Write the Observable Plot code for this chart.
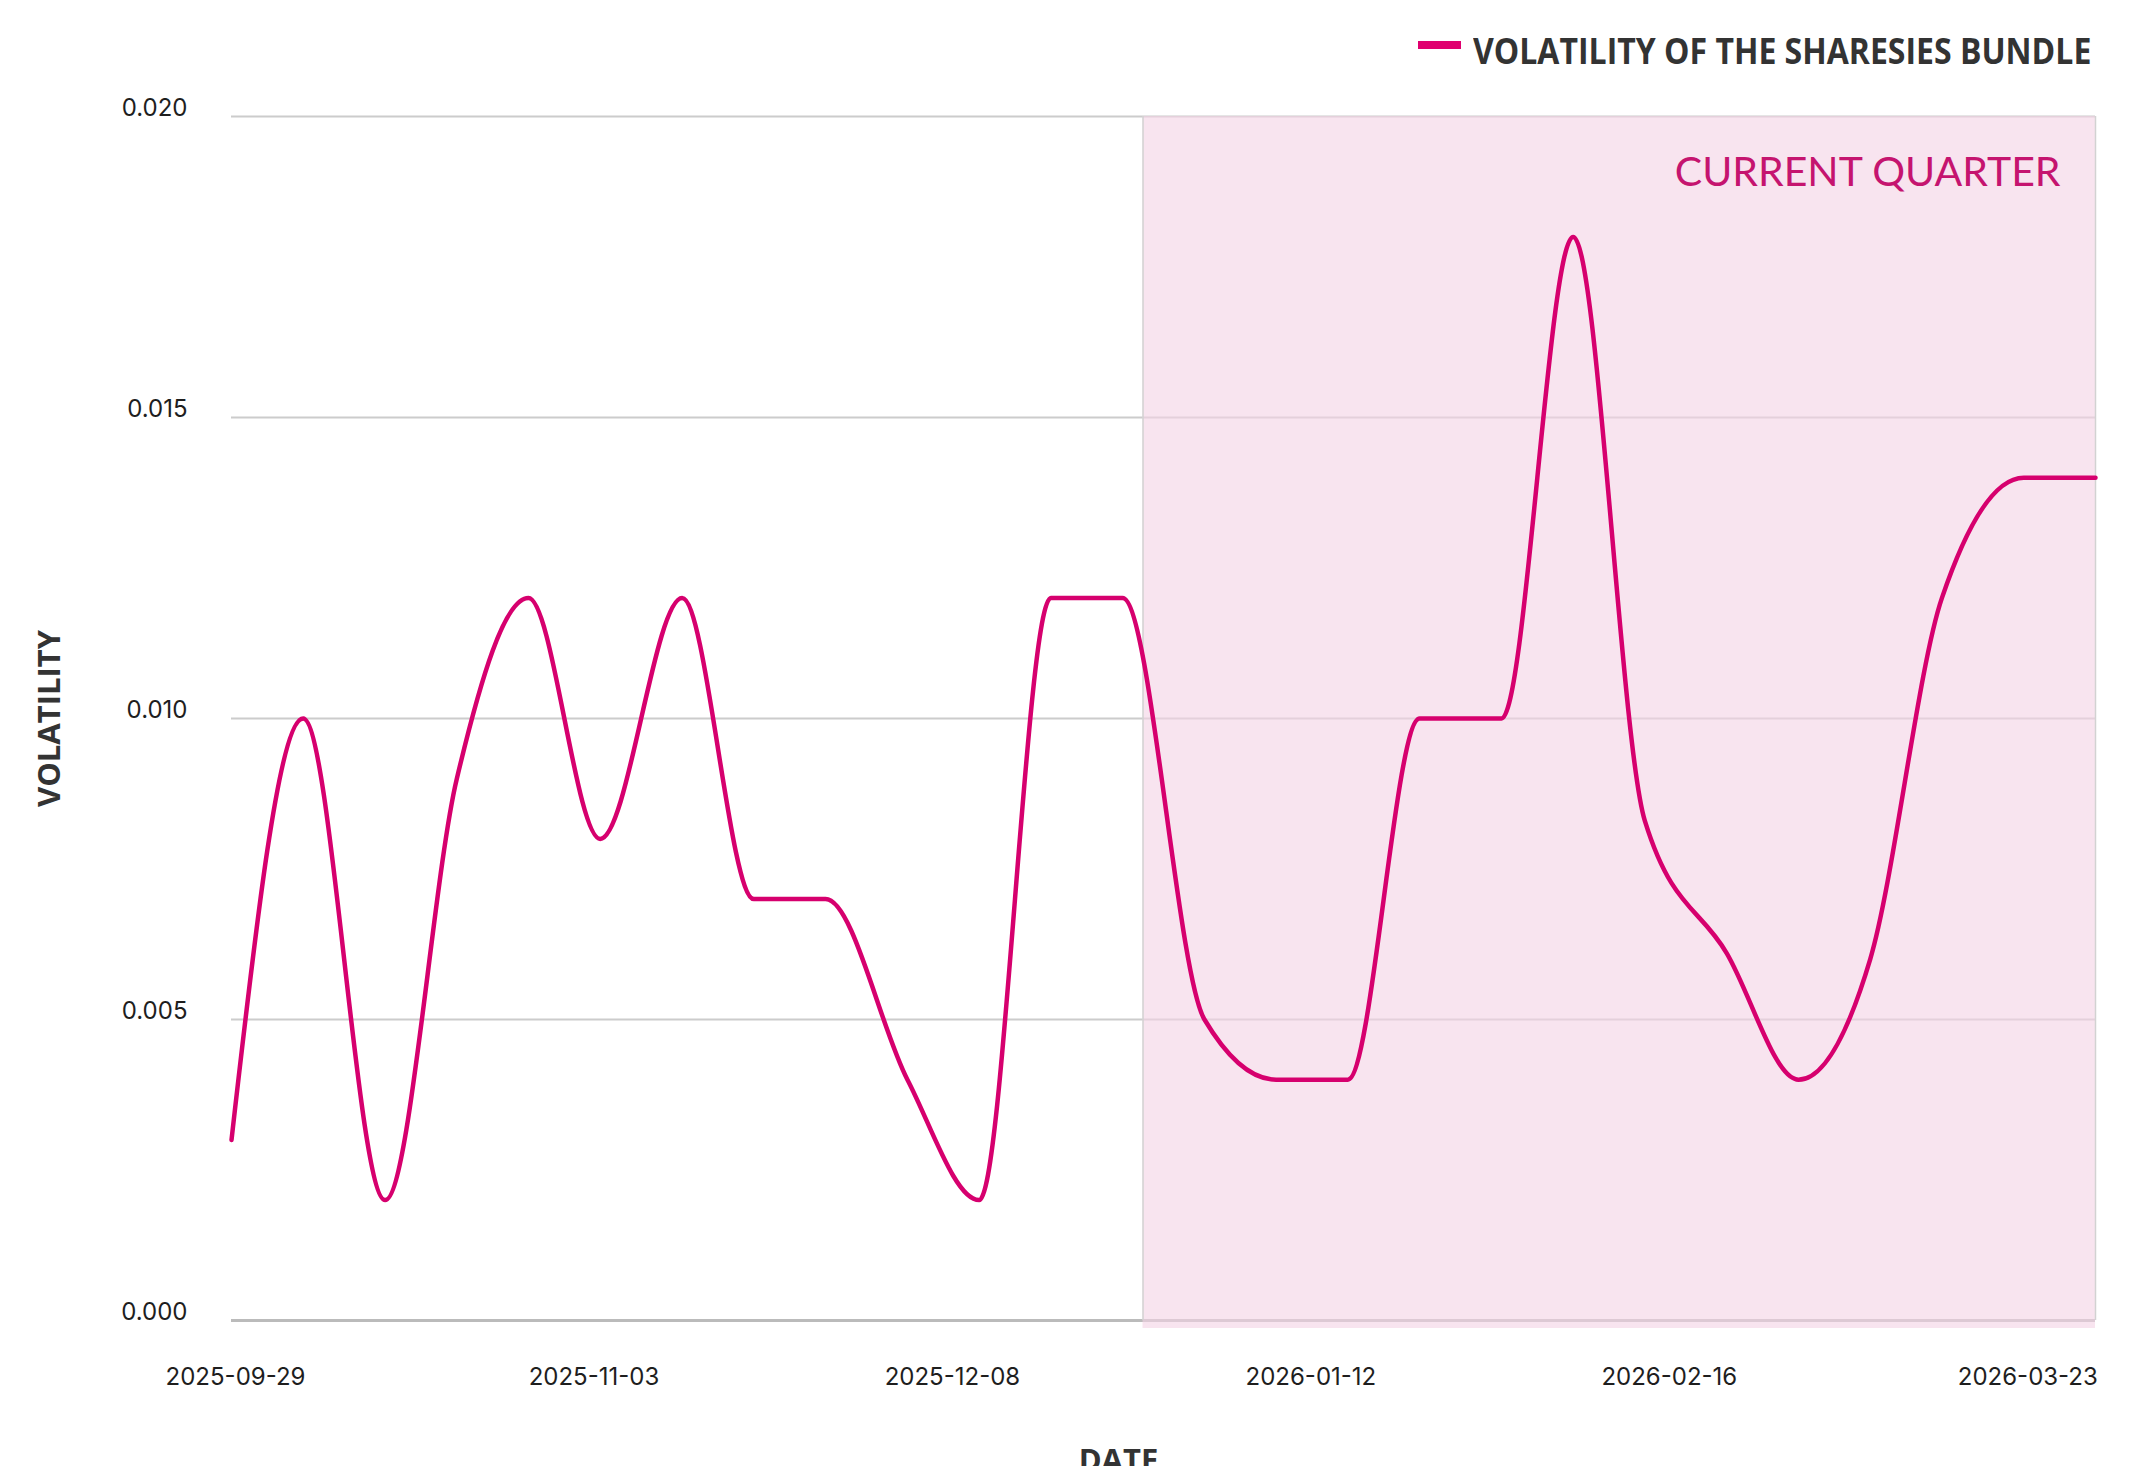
<!DOCTYPE html>
<html>
<head>
<meta charset="utf-8">
<script src="https://cdn.jsdelivr.net/npm/d3@7"></script>
<script src="https://cdn.jsdelivr.net/npm/@observablehq/plot@0.6"></script>
<style>
  html, body { margin: 0; padding: 0; background: #fff; overflow: hidden; }
  #legend { position: relative; width: 2132px; height: 80px; }
  #swatch { position: absolute; left: 1418px; top: 41px; width: 43px; height: 8px; background: #e0006f; }
  #legend-text { position: absolute; right: 41px; top: 33px; font-family: "Open Sans", sans-serif; font-weight: 700;
    font-size: 35px; line-height: 35px; color: #333; white-space: nowrap; transform-origin: right center; }
  #chart svg { display: block; overflow: visible; }
  #chart svg g[font-variant] { font-variant: normal; }
</style>
</head>
<body>
<div id="legend"><div id="swatch"></div><span id="legend-text">VOLATILITY OF THE SHARESIES BUNDLE</span></div>
<div id="chart"></div>
<script>
// ---- data ----
const dates = [
  "2025-09-29", "2025-10-06", "2025-10-14", "2025-10-21", "2025-10-28", "2025-11-04",
  "2025-11-12", "2025-11-19", "2025-11-26", "2025-12-04", "2025-12-11", "2025-12-18",
  "2025-12-25", "2026-01-02", "2026-01-09", "2026-01-16", "2026-01-23", "2026-01-31",
  "2026-02-07", "2026-02-14", "2026-02-22", "2026-03-01", "2026-03-08", "2026-03-15",
  "2026-03-23", "2026-03-30"
];
const volatility = [
  0.003, 0.010, 0.002, 0.009, 0.012, 0.008,
  0.012, 0.007, 0.007, 0.004, 0.002, 0.012,
  0.012, 0.005, 0.004, 0.004, 0.010, 0.010,
  0.018, 0.0083, 0.0061, 0.004, 0.006, 0.012,
  0.014, 0.014
];
const xTickLabels = ["2025-09-29", "2025-11-03", "2025-12-08", "2026-01-12", "2026-02-16", "2026-03-23"];
const yTicks = [0, 0.005, 0.010, 0.015, 0.020];
const quarterStart = "2025-12-27";
const quarterEnd = "2026-03-30";
const seriesName = "VOLATILITY OF THE SHARESIES BUNDLE";
const quarterLabel = "CURRENT QUARTER";
const xLabel = "DATE";
const yLabel = "VOLATILITY";

// ---- build table ----
const parse = d3.utcParse("%Y-%m-%d");
const data = dates.map((d, i) => ({date: parse(d), value: volatility[i]}));
const xTicks = xTickLabels.map(parse);
const quarter = [{x1: parse(quarterStart), x2: parse(quarterEnd)}];

document.getElementById("legend-text").textContent = seriesName;

const lineColor = "#d6006e";

const chart = Plot.plot({
  width: 2132,
  height: 1386,
  marginLeft: 231,
  marginRight: 37,
  marginTop: 36,
  marginBottom: 146,
  style: {fontFamily: "Inter, sans-serif", fontSize: "24px", color: "#1e1e1e", background: "transparent"},
  x: {type: "utc", domain: [parse(dates[0]), parse(dates[dates.length - 1])]},
  y: {domain: [0, 0.02]},
  marks: [
    Plot.ruleY(yTicks.filter(d => d !== 0), {stroke: "#cccccc", strokeWidth: 2}),
    Plot.ruleY([0], {stroke: "#bbbbbb", strokeWidth: 3}),
    Plot.rect(quarter, {x1: "x1", x2: "x2", y1: 0, y2: 0.02, fill: "#f3d2e4", fillOpacity: 0.6, insetBottom: -8}),
    Plot.ruleX([parse(quarterStart), parse(quarterEnd)], {y1: 0, y2: 0.02, stroke: "#d2d2d2", strokeWidth: 1.5}),
    Plot.line(data, {x: "date", y: "value", curve: "monotone-x", stroke: lineColor, strokeWidth: 4.5}),
    Plot.text([quarterLabel], {frameAnchor: "top-right", dx: -35, dy: 40, lineAnchor: "top", textAnchor: "end",
      fill: "#c5146f", fontFamily: "Lato, sans-serif", fontSize: 41}),
    Plot.axisY(yTicks, {tickSize: 0, tickPadding: 44, tickFormat: d3.format(".3f"), dy: -8, label: null, fontSize: 24}),
    Plot.axisX(xTicks, {tickSize: 0, tickPadding: 47, dx: 4, tickFormat: d3.utcFormat("%Y-%m-%d"), label: null, fontSize: 24}),
    Plot.text([yLabel], {frameAnchor: "left", textAnchor: "middle", dx: -181, rotate: -90, fontFamily: "Open Sans, sans-serif",
      fontWeight: 700, fontSize: 31, fill: "#333"}),
    Plot.text([xLabel], {frameAnchor: "bottom", textAnchor: "middle", dx: -45, dy: 128, lineAnchor: "top", fontFamily: "Open Sans, sans-serif",
      fontWeight: 700, fontSize: 31, fill: "#333"})
  ]
});
document.getElementById("chart").appendChild(chart);

function fitLegend() {
  const el = document.getElementById("legend-text");
  const w = el.offsetWidth;
  if (w > 0) el.style.transform = `scaleX(${618 / w})`;
}
fitLegend();
if (document.fonts && document.fonts.ready) document.fonts.ready.then(fitLegend);
</script>
</body>
</html>
